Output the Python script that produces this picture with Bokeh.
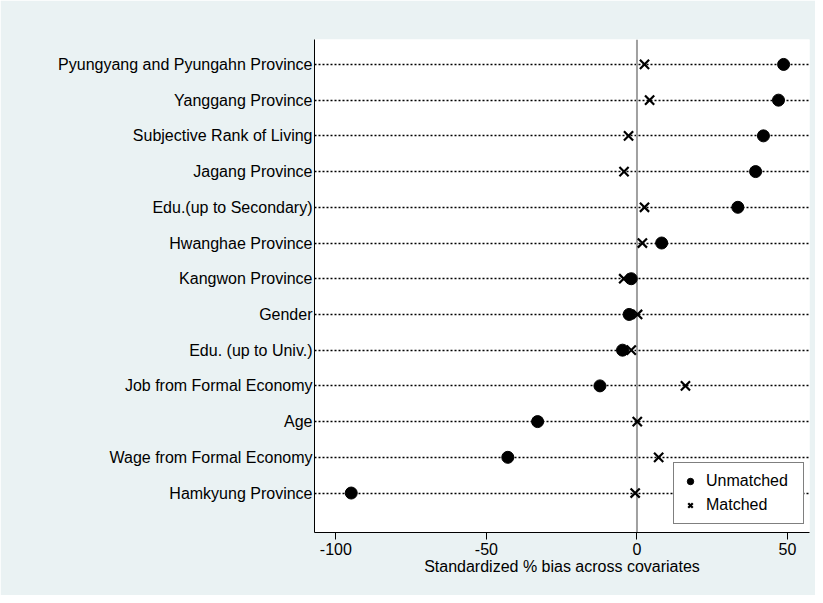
from bokeh.plotting import figure
from bokeh.models import Range1d, FixedTicker, Span, Legend, LegendItem
from bokeh.embed import file_html
from bokeh.resources import INLINE

covariates = [
    "Pyungyang and Pyungahn Province",
    "Yanggang Province",
    "Subjective Rank of Living",
    "Jagang Province",
    "Edu.(up to Secondary)",
    "Hwanghae Province",
    "Kangwon Province",
    "Gender",
    "Edu. (up to Univ.)",
    "Job from Formal Economy",
    "Age",
    "Wage from Formal Economy",
    "Hamkyung Province",
]
unmatched = [48.7, 47.0, 42.0, 39.4, 33.5, 8.2, -1.9, -2.6, -4.8, -12.3, -33.0, -42.9, -94.9]
matched = [2.5, 4.2, -2.8, -4.3, 2.5, 1.8, -4.4, 0.2, -1.9, 16.1, 0.1, 7.2, -0.6]
x_ticks = [-100, -50, 0, 50]

n = len(covariates)
ypos = [n - i for i in range(n)]  # top row first

FONT = "Liberation Sans"
BG = "#EAF2F3"

p = figure(width=815, height=595, output_backend="svg", toolbar_location=None,
           x_range=Range1d(-107.1, 57.3), y_range=Range1d(-0.105, n + 0.698),
           min_border_left=314, min_border_right=6, min_border_top=39, min_border_bottom=63)
p.background_fill_color = "white"
p.border_fill_color = BG
p.outline_line_color = None

# axes
p.xaxis.ticker = FixedTicker(ticks=x_ticks)
p.xaxis.major_label_overrides = {t: str(t) for t in x_ticks}
p.xaxis.minor_tick_line_color = None
p.xaxis.major_tick_out = 7
p.xaxis.major_tick_in = 0
p.xaxis.major_label_text_font = FONT
p.xaxis.major_label_text_font_size = "16px"
p.xaxis.major_label_text_color = "black"
p.xaxis.major_label_standoff = 3
p.xaxis.axis_label = "Standardized % bias across covariates"
p.xaxis.axis_label_text_font = FONT
p.xaxis.axis_label_text_font_size = "16px"
p.xaxis.axis_label_text_font_style = "normal"
p.xaxis.axis_label_text_color = "black"
p.xaxis.axis_label_standoff = 0
p.xaxis.axis_line_color = "black"
p.xaxis.major_tick_line_color = "black"

p.yaxis.ticker = FixedTicker(ticks=ypos)
p.yaxis.major_label_overrides = {y: c for y, c in zip(ypos, covariates)}
p.yaxis.minor_tick_line_color = None
p.yaxis.major_tick_out = 0
p.yaxis.major_tick_in = 0
p.yaxis.major_label_text_font = FONT
p.yaxis.major_label_text_font_size = "16px"
p.yaxis.major_label_text_color = "black"
p.yaxis.major_label_standoff = 2
p.yaxis.axis_line_color = "black"

p.xgrid.grid_line_color = None
p.ygrid.grid_line_color = "black"
p.ygrid.grid_line_dash = "2 2"
p.ygrid.grid_line_width = 1.6

zero = Span(location=0, dimension="height", line_color="#a0a0a0", line_width=2, level="underlay")
p.add_layout(zero)

r_un = p.scatter(unmatched, ypos, marker="circle", size=12, fill_color="black", line_color="black")
r_m = p.scatter(matched, ypos, marker="x", size=13, line_color="black", line_width=2.2)

legend = Legend(items=[LegendItem(label="Unmatched", renderers=[r_un]),
                       LegendItem(label="Matched", renderers=[r_m])],
                location=(359, 8))
legend.label_text_font = FONT
legend.label_text_font_size = "16px"
legend.label_text_color = "black"
legend.border_line_color = "black"
legend.border_line_width = 1
legend.background_fill_color = "white"
legend.background_fill_alpha = 1
legend.padding = 8
legend.spacing = 4
legend.glyph_width = 16
legend.glyph_height = 20
legend.label_height = 20
legend.label_standoff = 8
legend.label_width = 89
legend.margin = 0
p.add_layout(legend)

open("out.html", "w").write(file_html(p, INLINE))
